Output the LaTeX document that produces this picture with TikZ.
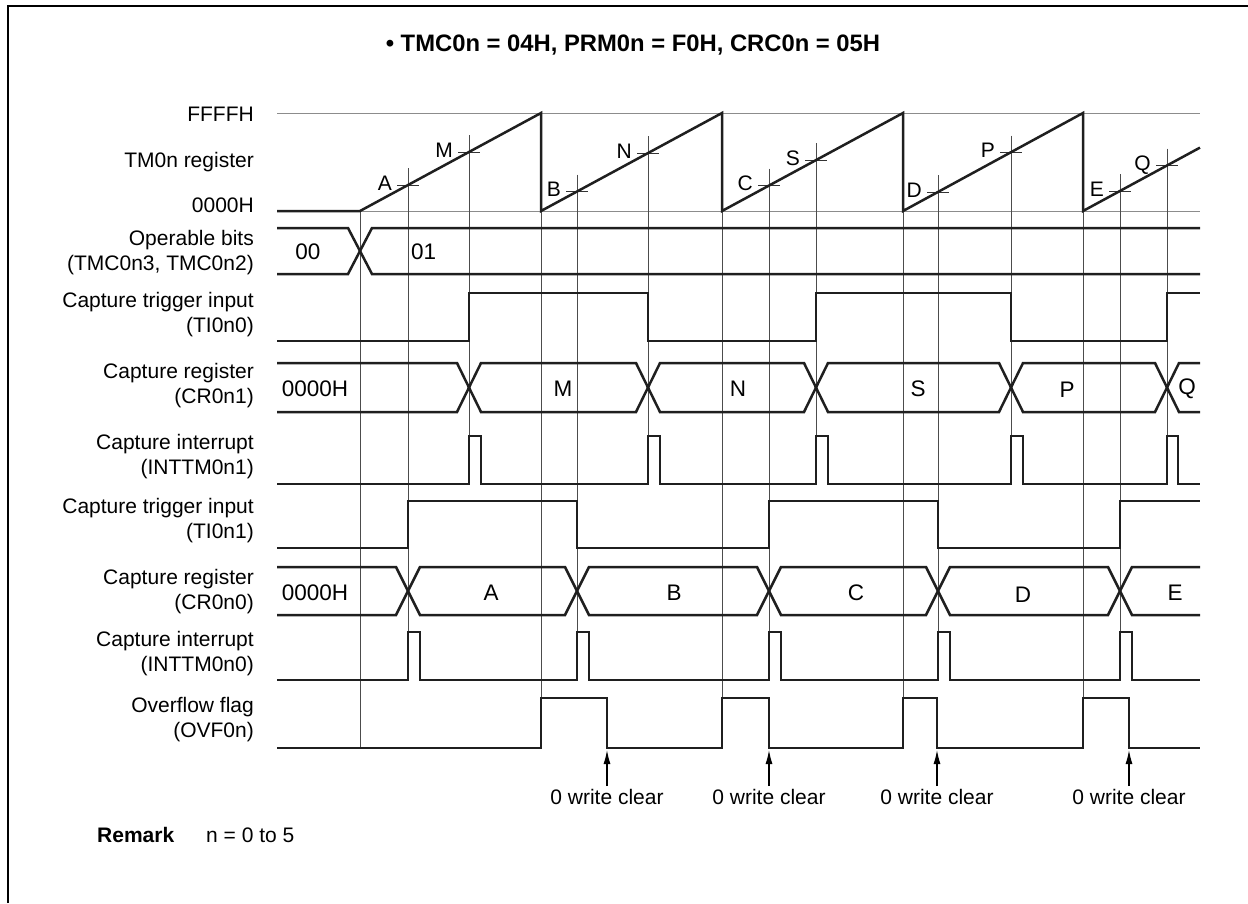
\documentclass[tikz,border=0pt]{standalone}
\usepackage{fontspec}
\setmainfont{Liberation Sans}
\usetikzlibrary{arrows.meta}
\begin{document}
\begin{tikzpicture}[x=1pt,y=-1pt,
  sig/.style={line width=2.5pt, black!88, line join=miter},
  gridl/.style={line width=1pt, black!70},
  refl/.style={line width=1pt, black!45},
  tick/.style={line width=1pt, black!80},
  lbl/.style={anchor=east, align=right, font=\fontsize{21}{25}\selectfont, inner sep=0pt},
  txt/.style={font=\fontsize{21}{25}\selectfont, inner sep=0pt},
  btxt/.style={font=\fontsize{22.5}{26}\selectfont, inner sep=0pt},
  tlbl/.style={anchor=base east, font=\fontsize{21}{25}\selectfont, inner sep=0pt},
  clr/.style={line width=1.2pt, -{Latex[length=14pt,width=7pt]}},
  ]
\useasboundingbox (0,0) rectangle (1248,903);
\draw[line width=2.5pt] (8,903) -- (8,6) -- (1248,6);

% title
\node[font=\bfseries\fontsize{23.8}{28}\selectfont, inner sep=0pt] (title) at (633,45) {\textbullet\ TMC0n = 04H, PRM0n = F0H, CRC0n = 05H};

% left labels
\node[tlbl] (lF) at (254,121) {FFFFH};
\node[tlbl] (lT) at (254,167) {TM0n register};
\node[tlbl] (l0) at (254,212) {0000H};
\node[lbl] (lop) at (254,253) {Operable bits\\(TMC0n3, TMC0n2)};
\node[lbl] (lti0) at (254,315) {Capture trigger input\\(TI0n0)};
\node[lbl] (lcr1) at (254,386) {Capture register\\(CR0n1)};
\node[lbl] (lin1) at (254,457) {Capture interrupt\\(INTTM0n1)};
\node[lbl] (lti1) at (254,521) {Capture trigger input\\(TI0n1)};
\node[lbl] (lcr0) at (254,592) {Capture register\\(CR0n0)};
\node[lbl] (lin0) at (254,654) {Capture interrupt\\(INTTM0n0)};
\node[lbl] (lovf) at (254,720) {Overflow flag\\(OVF0n)};

% reference lines
\draw[refl] (277,113) -- (1200,113);
\draw[refl] (360,211) -- (1200,211);

% vertical grid lines
\draw[gridl] (360,211) -- (360,748);
\foreach \x in {541,722,903,1083} \draw[gridl] (\x,211) -- (\x,698);
\foreach \x/\y in {408/185,577/191.5,769/185.6,938/192.1,1120/191} \draw[gridl] (\x,\y-17) -- (\x,680);
\foreach \x/\y in {469/152,648/153.1,816/160.1,1011/152.5,1167/165.5} \draw[gridl] (\x,\y-17) -- (\x,484);

% ticks and labels
\foreach \x/\y/\t in {408/185/A,469/152/M,577/191.5/B,648/153.1/N,769/185.6/C,816/160.1/S,938/192.1/D,1011/152.5/P,1120/191/E,1167/165.5/Q}{
  \draw[tick] (\x-11,\y) -- (\x+11,\y);
  \node[tlbl] (t\t) at (\x-16,\y+5) {\t};
}

% sawtooth
\draw[sig] (277,211) -- (360,211) -- (541,113) -- (541,211) -- (722,113) -- (722,211) -- (903,113) -- (903,211) -- (1083,113) -- (1083,211) -- (1200,147.6);

% operable bits
\draw[sig] (277,228) -- (348,228) -- (360,251) -- (348,274) -- (277,274);
\draw[sig] (1200,228) -- (372,228) -- (360,251) -- (372,274) -- (1200,274);
\node[btxt] (op00) at (308,252) {00};
\node[btxt, anchor=west] (op01) at (411,252) {01};

% TI0n0
\draw[sig] (277,341) -| (469,293) -| (648,341) -| (816,293) -| (1011,341) -| (1167,293) -- (1200,293);

% CR0n1
\draw[sig] (277,363) -- (457,363) -- (469,387.5) -- (457,412) -- (277,412);
\draw[sig] (469,387.5) -- (481,363) -- (636,363) -- (648,387.5) -- (636,412) -- (481,412) -- cycle;
\draw[sig] (648,387.5) -- (660,363) -- (804,363) -- (816,387.5) -- (804,412) -- (660,412) -- cycle;
\draw[sig] (816,387.5) -- (828,363) -- (999,363) -- (1011,387.5) -- (999,412) -- (828,412) -- cycle;
\draw[sig] (1011,387.5) -- (1023,363) -- (1155,363) -- (1167,387.5) -- (1155,412) -- (1023,412) -- cycle;
\draw[sig] (1200,363) -- (1179,363) -- (1167,387.5) -- (1179,412) -- (1200,412);
\node[btxt] (c1a) at (315,389) {0000H};
\node[btxt] (c1m) at (563,389) {M};
\node[btxt] (c1n) at (738,389) {N};
\node[btxt] (c1s) at (918,389) {S};
\node[btxt] (c1p) at (1067,390) {P};
\node[btxt] (c1q) at (1187,389) {Q};

% INTTM0n1
\draw[sig] (277,484) -- (469,484) -- (469,436) -- (481,436) -- (481,484)
  -- (648,484) -- (648,436) -- (660,436) -- (660,484)
  -- (816,484) -- (816,436) -- (828,436) -- (828,484)
  -- (1011,484) -- (1011,436) -- (1023,436) -- (1023,484)
  -- (1167,484) -- (1167,436) -- (1178,436) -- (1178,484) -- (1200,484);

% TI0n1
\draw[sig] (277,548) -| (408,501) -| (577,548) -| (769,501) -| (938,548) -| (1120,501) -- (1200,501);

% CR0n0
\draw[sig] (277,567) -- (396,567) -- (408,591) -- (396,615) -- (277,615);
\draw[sig] (408,591) -- (420,567) -- (565,567) -- (577,591) -- (565,615) -- (420,615) -- cycle;
\draw[sig] (577,591) -- (589,567) -- (757,567) -- (769,591) -- (757,615) -- (589,615) -- cycle;
\draw[sig] (769,591) -- (781,567) -- (926,567) -- (938,591) -- (926,615) -- (781,615) -- cycle;
\draw[sig] (938,591) -- (950,567) -- (1108,567) -- (1120,591) -- (1108,615) -- (950,615) -- cycle;
\draw[sig] (1200,567) -- (1132,567) -- (1120,591) -- (1132,615) -- (1200,615);
\node[btxt] (c0a) at (315,593) {0000H};
\node[btxt] (c0A) at (491,593) {A};
\node[btxt] (c0B) at (674,593) {B};
\node[btxt] (c0C) at (856,593) {C};
\node[btxt] (c0D) at (1023,595) {D};
\node[btxt] (c0E) at (1175,593) {E};

% INTTM0n0
\draw[sig] (277,680) -- (408,680) -- (408,632) -- (420,632) -- (420,680)
  -- (577,680) -- (577,632) -- (589,632) -- (589,680)
  -- (769,680) -- (769,632) -- (781,632) -- (781,680)
  -- (938,680) -- (938,632) -- (950,632) -- (950,680)
  -- (1120,680) -- (1120,632) -- (1132,632) -- (1132,680) -- (1200,680);

% OVF0n
\draw[sig] (277,748) -| (541,698) -| (607,748) -| (722,698) -| (769,748) -| (903,698) -| (937,748) -| (1083,698) -| (1129,748) -- (1200,748);

% 0 write clear
\foreach \x [count=\i] in {607,769,937,1129}{
  \node[txt] (wc\i) at (\x,797) {0 write clear};
  \coordinate (wt\i) at (\x,750);
  \draw[clr] (wc\i.north) ++(0,-3) -- (wt\i);
}

% remark
\node[anchor=base west, font=\bfseries\fontsize{21}{25}\selectfont, inner sep=0pt] (rem) at (97,842) {Remark};
\node[anchor=base west, txt] (remt) at (206,842) {n = 0 to 5};
\end{tikzpicture}
\end{document}
